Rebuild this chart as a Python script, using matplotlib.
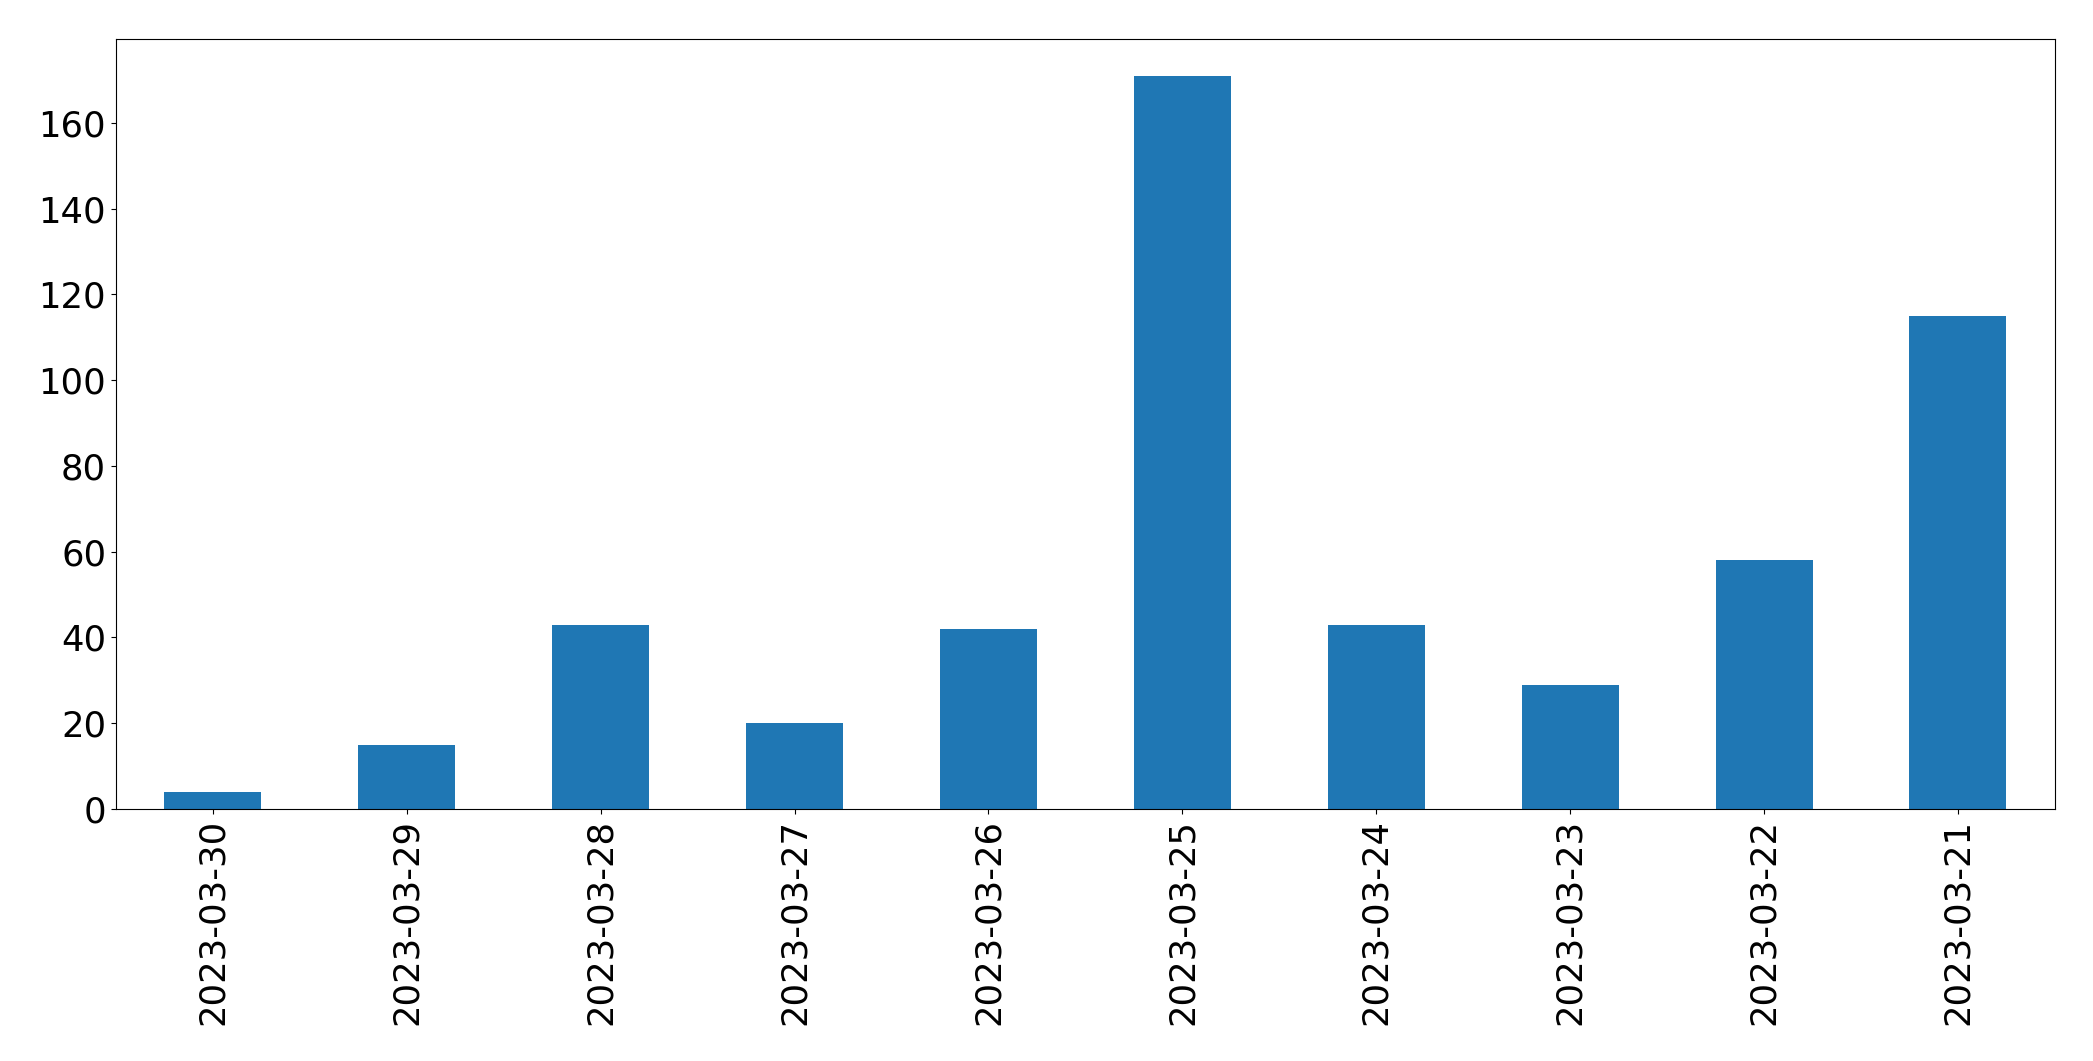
import matplotlib
matplotlib.use("Agg")
import matplotlib.pyplot as plt
import pandas as pd

dates = ["2023-03-30", "2023-03-29", "2023-03-28", "2023-03-27", "2023-03-26",
         "2023-03-25", "2023-03-24", "2023-03-23", "2023-03-22", "2023-03-21"]
counts = [4, 15, 43, 20, 42, 171, 43, 29, 58, 115]

s = pd.Series(counts, index=dates)

fig, ax = plt.subplots(figsize=(20.93, 10.61), dpi=100)
s.plot(kind="bar", ax=ax, color="#1f77b4", fontsize=25.5)
ax.tick_params(axis="x", labelrotation=90)
fig.subplots_adjust(left=0.0554, right=0.9818, top=0.9632, bottom=0.2375)
fig.savefig("out.png", dpi=100)
